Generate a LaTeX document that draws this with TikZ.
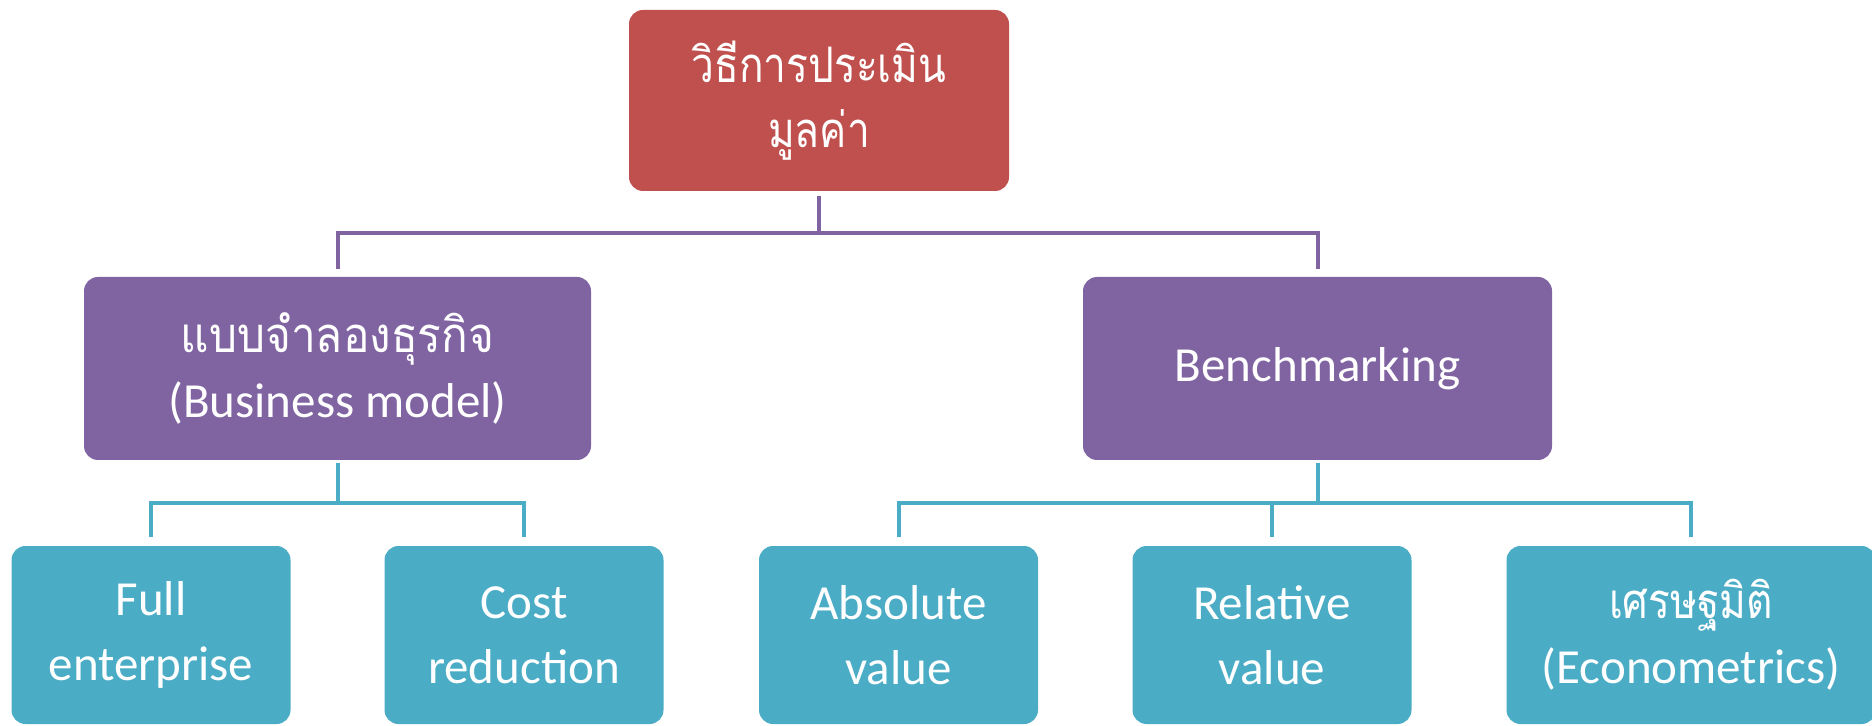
\documentclass[tikz,border=0pt]{standalone}
\usepackage{fontspec}
\setmainfont{Carlito}
\newfontfamily\thaifont[Script=Thai,FakeStretch=0.9]{Loma}
\newfontfamily\thaitight[Script=Thai,FakeStretch=0.83]{Loma}
\usetikzlibrary{positioning}
\definecolor{boxred}{HTML}{C0504D}
\definecolor{boxpurple}{HTML}{8064A2}
\definecolor{boxteal}{HTML}{4BACC6}
\begin{document}
\begin{tikzpicture}[x=0.5pt,y=-0.5pt,
  box/.style={rounded corners=7pt, text=white, align=center, inner sep=0pt,
    font=\fontsize{24.5}{32.5}\selectfont},
  topbox/.style={box, fill=boxred, minimum width=190pt, minimum height=90.5pt},
  midbox/.style={box, fill=boxpurple, minimum height=91.5pt},
  leafbox/.style={box, fill=boxteal, minimum width=139.5pt, minimum height=89pt},
  linkp/.style={draw=boxpurple, line width=2pt, shorten <=2.5pt, shorten >=4pt},
  linkb/.style={draw=boxteal, line width=2pt, shorten <=1.5pt, shorten >=4.5pt}]
\useasboundingbox (0,0) rectangle (1872,726);
% top level
\node[topbox] (valuation) at (819,100.5) {{\thaitight วิธีการประเมิน}\\{\thaitight มูลค่า}};
% second level
\node[midbox, minimum width=253.5pt] (bizmodel) at (337.5,368.5) {{\thaifont แบบจำลองธุรกิจ}\\(Business model)};
\node[midbox, minimum width=234.5pt] (bench) at (1317.5,368.5) {Benchmarking};
% leaves
\node[leafbox] (full) at (151,635) {Full\\enterprise};
\node[leafbox] (cost) at (524,635) {Cost\\reduction};
\node[leafbox] (absval) at (898.5,635) {Absolute\\value};
\node[leafbox] (relval) at (1272,635) {Relative\\value};
\node[leafbox, minimum width=184.5pt] (econ) at (1691,635) {{\thaitight เศรษฐมิติ}\\(Econometrics)};
% connectors
\draw[linkp] (valuation.south) -- ++(0,42) -| (bizmodel.north);
\draw[linkp] (valuation.south) -- ++(0,42) -| (bench.north);
\draw[linkb] (bizmodel.south) -- ++(0,43) -| (full.north);
\draw[linkb] (bizmodel.south) -- ++(0,43) -| (cost.north);
\foreach \leaf in {absval,relval,econ}
  \draw[linkb] (bench.south) -- ++(0,43) -| (\leaf.north);
\end{tikzpicture}
\end{document}
